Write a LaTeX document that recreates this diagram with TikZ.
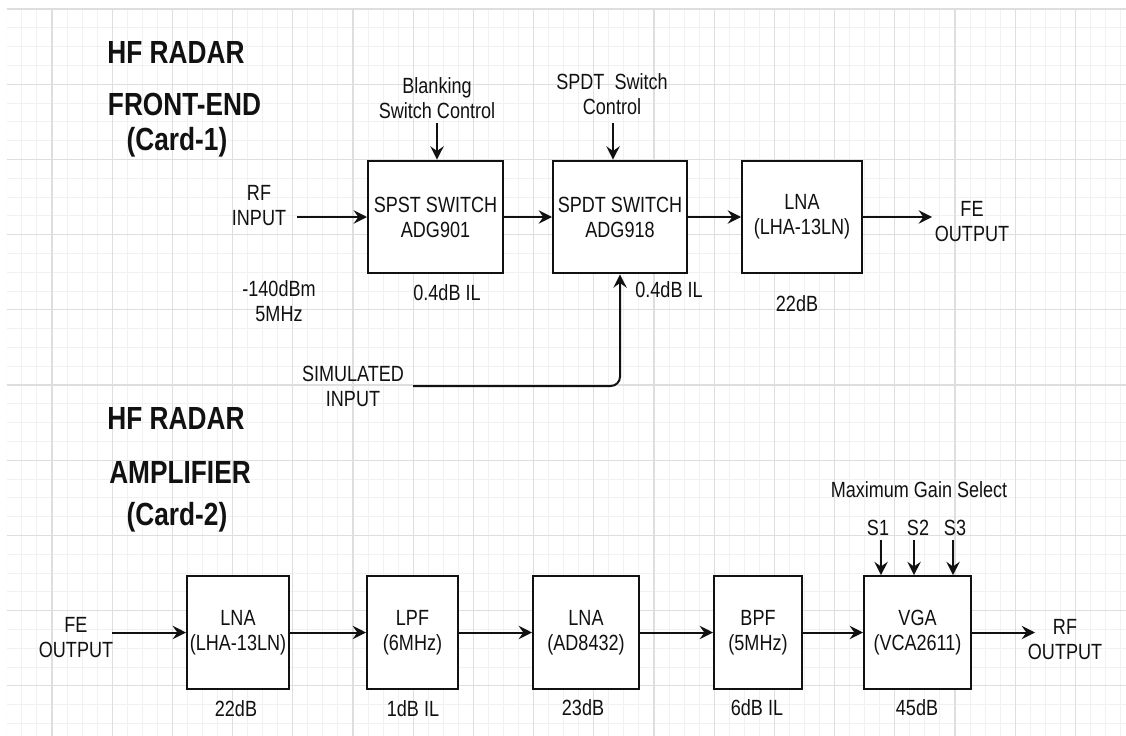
\documentclass[tikz,border=0pt]{standalone}
\usepackage{fontspec}
\setmainfont{Liberation Sans}[FakeStretch=0.82]
\usetikzlibrary{arrows.meta}
\definecolor{gminor}{HTML}{F1F1F1}
\definecolor{gmajor}{HTML}{DEDEDE}
\definecolor{ink}{HTML}{111111}
\begin{document}
\begin{tikzpicture}[x=0.75pt,y=-0.75pt,
  txt/.style={align=center, inner sep=0pt, text=ink, font=\fontsize{16.5}{18.75}\selectfont},
  ttl/.style={inner sep=0pt, text=ink, font=\fontsize{24}{28}\selectfont\bfseries},
  box/.style={draw=ink, fill=white, line width=1.5pt, minimum height=84.5pt, inner sep=0pt, align=center, text=ink, font=\fontsize{16.5}{18.75}\selectfont},
  arr/.style={draw=ink, -{Stealth[length=10pt,width=10pt,inset=3.5pt]}, line width=1.5pt},
]
\useasboundingbox (0,0) rectangle (1126,735);
% grid
\begin{scope}
\clip (6.85,9) rectangle (1126,735);
\foreach \i in {0,...,74} \draw[gminor, line width=0.75pt] ({6.85+15.05*\i},9) -- ++(0,730);
\foreach \j in {0,...,38} \draw[gminor, line width=0.75pt] (6.85,{9+18.8*\j}) -- ++(1125,0);
\foreach \i in {0,...,17} \draw[gmajor, line width=0.9pt] ({52+60.2*\i},9) -- ++(0,730);
\foreach \j in {0,...,9} \draw[gmajor, line width=0.9pt] (6.85,{9+75.2*\j}) -- ++(1125,0);
\end{scope}

% titles
\node[ttl] (t1a) at (176,52) {HF RADAR};
\node[ttl] (t1b) at (184.5,104) {FRONT-END};
\node[ttl] (t1c) at (177,142) {(Card-1)};
\node[ttl] (t2a) at (176,418) {HF RADAR};
\node[ttl] (t2b) at (180,472) {AMPLIFIER};
\node[ttl] (t2c) at (177,517) {(Card-2)};

% top row
\node[box, minimum width=101.25pt] (spst) at (435.5,217) {SPST SWITCH\\ADG901};
\node[box, minimum width=100.5pt] (spdt) at (620,217) {SPDT SWITCH\\ADG918};
\node[box, minimum width=90pt] (lnaA) at (802,217) {LNA\\(LHA-13LN)};

\node[txt] (rfin) at (259,206) {RF\\INPUT};
\coordinate (rfinS) at (297,217);
\node[txt] (feoutA) at (972,222) {FE\\OUTPUT};
\coordinate (feoutE) at (932,217);
\node[txt] (blank) at (437,98) {Blanking\\Switch Control};
\coordinate (blankS) at (437,123);
\node[txt] (spdtc) at (612,94) {SPDT\ \ Switch\\Control};
\coordinate (spdtcS) at (613,123);
\node[txt] (pwr) at (279,301) {-140dBm\\5MHz};
\node[txt] (ilA) at (447,293) {0.4dB IL};
\node[txt] (ilB) at (669,290) {0.4dB IL};
\node[txt] (gA) at (797,304) {22dB};
\node[txt] (sim) at (353,386) {SIMULATED\\INPUT};
\coordinate (simS) at (413,386);

\draw[arr] (rfinS) -- (spst.west);
\draw[arr] (spst.east) -- (spdt.west);
\draw[arr] (spdt.east) -- (lnaA.west);
\draw[arr] (lnaA.east) -- (feoutE);
\draw[arr] (blankS) -- (blankS |- spst.north);
\draw[arr] (spdtcS) -- (spdtcS |- spdt.north);
\draw[arr, rounded corners=7pt] (simS) -| (spdt.south);

% bottom row
\node[box, minimum width=76.5pt] (lnaB) at (238,632.5) {LNA\\(LHA-13LN)};
\node[box, minimum width=68.25pt] (lpf) at (412.5,632.5) {LPF\\(6MHz)};
\node[box, minimum width=79.5pt] (lnaC) at (586,632.5) {LNA\\(AD8432)};
\node[box, minimum width=66pt] (bpf) at (758,632.5) {BPF\\(5MHz)};
\node[box, minimum width=80.25pt] (vga) at (917.5,632.5) {VGA\\(VCA2611)};

\node[txt] (feoutB) at (76,638) {FE\\OUTPUT};
\coordinate (feoutBS) at (112,632.5);
\node[txt] (rfout) at (1065,640) {RF\\OUTPUT};
\coordinate (rfoutE) at (1035,632.5);
\node[txt] (gB) at (236,709) {22dB};
\node[txt] (ilC) at (413,709) {1dB IL};
\node[txt] (gC) at (583,708) {23dB};
\node[txt] (ilD) at (757,708) {6dB IL};
\node[txt] (gD) at (917,708) {45dB};
\node[txt] (mgs) at (919,490) {Maximum Gain Select};
\node[txt] (s1) at (878,528) {S1};
\node[txt] (s2) at (918,528) {S2};
\node[txt] (s3) at (955,528) {S3};
\coordinate (s1S) at (881,540);
\coordinate (s2S) at (914,540);
\coordinate (s3S) at (953,540);

\draw[arr] (feoutBS) -- (lnaB.west);
\draw[arr] (lnaB.east) -- (lpf.west);
\draw[arr] (lpf.east) -- (lnaC.west);
\draw[arr] (lnaC.east) -- (bpf.west);
\draw[arr] (bpf.east) -- (vga.west);
\draw[arr] (vga.east) -- (rfoutE);
\draw[arr] (s1S) -- (s1S |- vga.north);
\draw[arr] (s2S) -- (s2S |- vga.north);
\draw[arr] (s3S) -- (s3S |- vga.north);
\end{tikzpicture}
\end{document}
